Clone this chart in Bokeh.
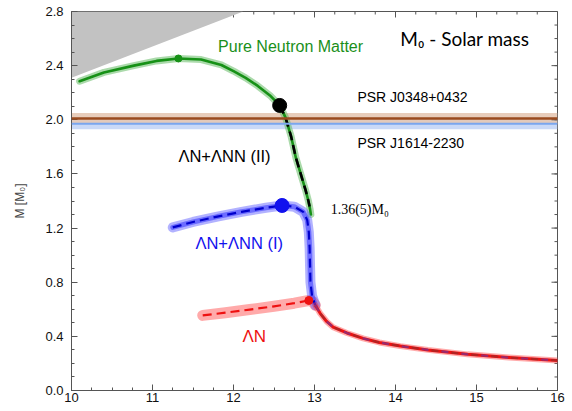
import numpy as np
from bokeh.plotting import figure
from bokeh.models import (Range1d, FixedTicker, PrintfTickFormatter,
                          Label, BoxAnnotation, Span)
from bokeh.embed import file_html
from bokeh.resources import INLINE

# ---------------- data ----------------
x_ticks = [10, 11, 12, 13, 14, 15, 16]
y_ticks = [0.0, 0.4, 0.8, 1.2, 1.6, 2.0, 2.4, 2.8]
x_minor = list(np.arange(10, 16.001, 0.25))
y_minor = list(np.arange(0, 2.801, 0.1))

# causality-excluded region
causal_r = [10.0, 12.12, 10.0]
causal_m = [2.31, 2.80, 2.80]

# pulsar masses
psr1_m, psr1_err = 2.01, 0.04   # PSR J0348+0432
psr2_m, psr2_err = 1.97, 0.04   # PSR J1614-2230

# Pure neutron matter
pnm_r = [10.10, 10.40, 10.77, 11.05, 11.32, 11.60, 11.85, 12.00, 12.15, 12.30,
         12.45, 12.57, 12.64, 12.71, 12.77, 12.84, 12.89, 12.925, 12.945, 12.955]
pnm_m = [2.285, 2.350, 2.400, 2.435, 2.453, 2.445, 2.405, 2.360, 2.310, 2.250,
         2.180, 2.106, 2.020, 1.880, 1.720, 1.580, 1.480, 1.400, 1.340, 1.300]
pnm_max = (11.32, 2.453)

# Lambda N + Lambda NN (II)
ln2_r = [12.57, 12.64, 12.71, 12.77, 12.84, 12.89, 12.925, 12.94]
ln2_m = [2.106, 2.020, 1.880, 1.720, 1.580, 1.480, 1.400, 1.360]
ln2_max = (12.57, 2.106)

# Lambda N + Lambda NN (I)
ln1_r = [11.25, 11.50, 11.80, 12.10, 12.40, 12.60, 12.75, 12.86, 12.91, 12.93,
         12.94, 12.945, 12.95, 12.97, 13.01]
ln1_m = [1.205, 1.245, 1.285, 1.320, 1.350, 1.367, 1.358, 1.320, 1.260, 1.170,
         1.050, 0.920, 0.800, 0.700, 0.630]
ln1_max = (12.60, 1.367)

# Lambda N
lam_r = [11.62, 11.90, 12.20, 12.50, 12.75, 12.93, 12.98, 13.01]
lam_m = [0.555, 0.575, 0.598, 0.622, 0.645, 0.665, 0.655, 0.630]
lam_max = (12.93, 0.665)

# common low-mass tail
tail_r = [13.01, 13.07, 13.15, 13.23, 13.40, 13.60, 13.80, 14.06, 14.40, 14.89,
          15.40, 16.00]
tail_m = [0.630, 0.570, 0.510, 0.468, 0.425, 0.385, 0.355, 0.328, 0.300, 0.267,
          0.243, 0.222]

# ---------------- figure ----------------
p = figure(width=566, height=407, x_range=Range1d(10, 16), y_range=Range1d(0, 2.8),
           output_backend="svg", toolbar_location=None,
           min_border_left=71, min_border_right=9, min_border_top=11, min_border_bottom=17)
p.xgrid.visible = False
p.ygrid.visible = False
p.outline_line_color = "#555555"
p.background_fill_color = "white"
p.border_fill_color = "white"

AX = "#555555"
for ax in (p.xaxis[0], p.yaxis[0]):
    ax.axis_line_color = AX
    ax.major_tick_line_color = AX
    ax.minor_tick_line_color = AX
    ax.major_tick_in = 6
    ax.major_tick_out = 0
    ax.minor_tick_in = 3
    ax.minor_tick_out = 0
    ax.major_label_text_font = "Liberation Sans"
    ax.major_label_text_color = "#111111"
    ax.major_label_text_font_size = "13px"

p.xaxis.ticker = FixedTicker(ticks=x_ticks, minor_ticks=x_minor)
p.yaxis.ticker = FixedTicker(ticks=y_ticks, minor_ticks=y_minor)
p.xaxis.formatter = PrintfTickFormatter(format="%d")
p.yaxis.formatter = PrintfTickFormatter(format="%.1f")
p.xaxis.major_label_standoff = 2
p.yaxis.major_label_standoff = 8
p.yaxis.axis_label = "M [M₀]"
p.yaxis.axis_label_text_font = "Liberation Sans"
p.yaxis.axis_label_text_font_style = "normal"
p.yaxis.axis_label_text_font_size = "12px"
p.yaxis.axis_label_standoff = 15

# inward ticks on top and right edges (mirrors of the axes' ticks)
maj_dx, min_dx = 6 / 81.0, 3 / 81.0
maj_dy, min_dy = 6 / 135.4, 3 / 135.4
p.segment(x0=x_ticks, x1=x_ticks, y0=[2.8] * len(x_ticks), y1=[2.8 - maj_dy] * len(x_ticks),
          line_color=AX, line_width=1)
p.segment(x0=x_minor, x1=x_minor, y0=[2.8] * len(x_minor), y1=[2.8 - min_dy] * len(x_minor),
          line_color=AX, line_width=1)
p.segment(x0=[16] * len(y_ticks), x1=[16 - maj_dx] * len(y_ticks), y0=y_ticks, y1=y_ticks,
          line_color=AX, line_width=1)
p.segment(x0=[16] * len(y_minor), x1=[16 - min_dx] * len(y_minor), y0=y_minor, y1=y_minor,
          line_color=AX, line_width=1)

# causality region
p.patch(causal_r, causal_m, fill_color="#c2c2c2", line_color=None)

# pulsar bands
p.add_layout(BoxAnnotation(bottom=psr2_m - psr2_err, top=psr2_m + psr2_err,
                           fill_color="#c9d9f7", fill_alpha=1.0, line_color=None, level="underlay"))
p.add_layout(BoxAnnotation(bottom=psr1_m - psr1_err, top=psr1_m + psr1_err,
                           fill_color="#e6c8b4", fill_alpha=0.9, line_color=None, level="underlay"))
p.add_layout(Span(location=psr1_m, dimension="width", line_color="#9a4a1e", line_width=2.5))
p.add_layout(Span(location=psr2_m, dimension="width", line_color="#7aa6ee", line_width=2))

# Pure neutron matter
p.line(pnm_r, pnm_m, line_color="#66bb66", line_width=7, line_alpha=0.55,
       line_join="round", line_cap="round")
p.line(pnm_r, pnm_m, line_color="#169116", line_width=2.6, line_join="round", line_cap="round")
p.scatter([pnm_max[0]], [pnm_max[1]], size=7, color="#169116")

# LN+LNN (II)
p.line(ln2_r, ln2_m, line_color="black", line_width=2.6, line_dash="9 5", line_join="round")
p.scatter([ln2_max[0]], [ln2_max[1]], size=14, color="black")

# Lambda N (red)
p.line(lam_r, lam_m, line_color="#ff5555", line_width=11, line_alpha=0.5,
       line_join="round", line_cap="round")
p.line(lam_r, lam_m, line_color="#ee1111", line_width=2.2, line_dash="9 5", line_join="round")

# LN+LNN (I) (blue)
p.line(ln1_r, ln1_m, line_color="#5555ff", line_width=10, line_alpha=0.45,
       line_join="round", line_cap="round")
p.line(ln1_r, ln1_m, line_color="#3333ff", line_width=5, line_alpha=0.55,
       line_join="round", line_cap="round")
p.line(ln1_r, ln1_m, line_color="#0000cc", line_width=2.2, line_dash="9 5", line_join="round")
p.scatter([ln1_max[0]], [ln1_max[1]], size=14, color="#1111ee")
p.scatter([lam_max[0]], [lam_max[1]], size=8, color="#ee1111")

# tail
p.line(tail_r, tail_m, line_color="#ff4444", line_width=6, line_alpha=0.45,
       line_join="round", line_cap="round")
p.line(tail_r, tail_m, line_color="#ee1111", line_width=3, line_join="round")
p.line(tail_r, tail_m, line_color="#4444cc", line_width=2.2, line_alpha=0.5,
       line_dash="7 13")
p.line(tail_r, tail_m, line_color="#444444", line_width=2.2, line_alpha=0.35,
       line_dash="0 10 7 3")

# ---------------- labels ----------------
def lab(x, y, text, color="black", size="16px", font="Liberation Sans"):
    p.add_layout(Label(x=x, y=y, text=text, text_color=color, text_font_size=size,
                       text_font=font, text_baseline="middle", text_align="left"))

lab(11.81, 2.543, "Pure Neutron Matter", "#1a8f1a", "16px")
lab(14.06, 2.598, "M₀ - Solar mass", "black", "19px", "Lato")
lab(13.53, 2.165, "PSR J0348+0432", "black", "14px")
lab(13.53, 1.825, "PSR J1614-2230", "black", "14px")
lab(11.32, 1.730, "ΛN+ΛNN (II)", "black", "16.5px")
lab(13.20, 1.340, "1.36(5)M₀", "black", "14px", "Liberation Serif")
lab(11.53, 1.093, "ΛN+ΛNN (I)", "#1111ee", "16.5px")
lab(12.11, 0.398, "ΛN", "#ee1111", "17px")

open("out.html", "w").write(file_html(p, INLINE))
